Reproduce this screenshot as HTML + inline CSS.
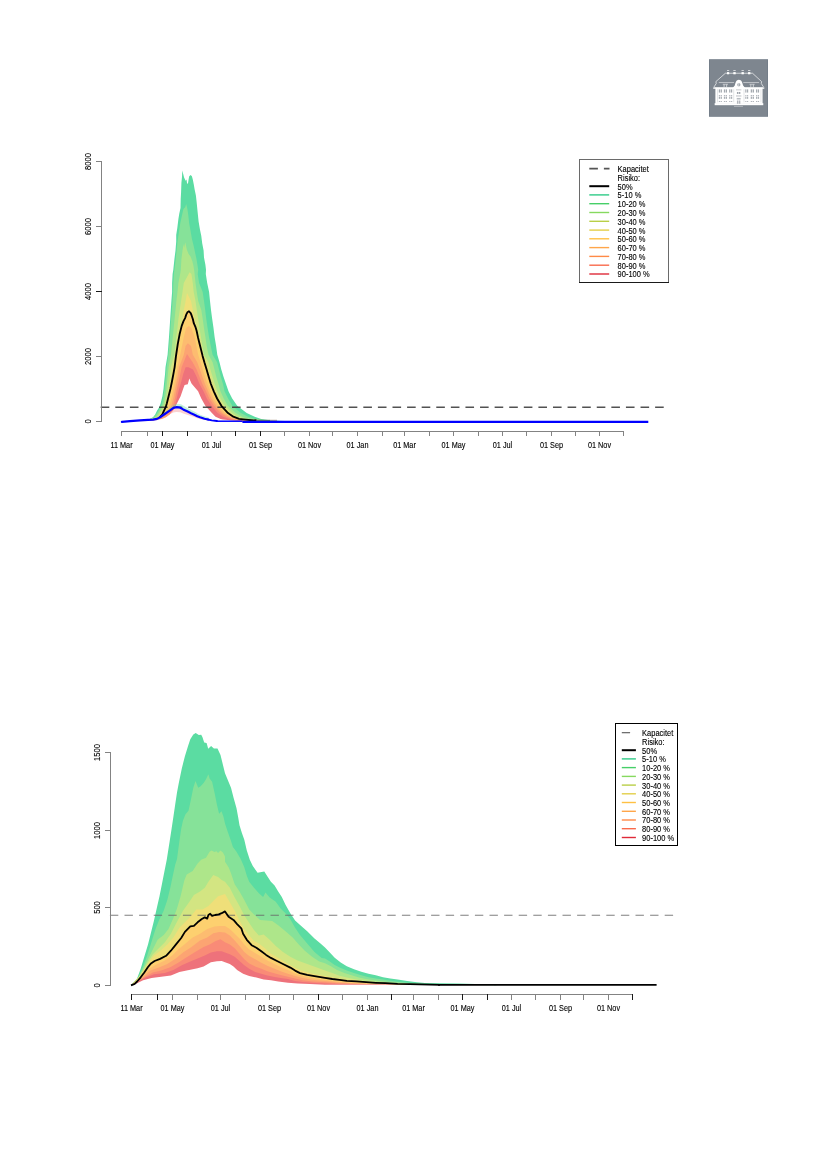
<!DOCTYPE html>
<html lang="da"><head><meta charset="utf-8"><title>Risiko</title>
<style>
html,body{margin:0;padding:0;background:#fff}
body{width:827px;height:1169px;overflow:hidden;font-family:"Liberation Sans",Arial,sans-serif}
svg{display:block}
</style></head><body>
<svg width="827" height="1169" viewBox="0 0 827 1169" font-family="'Liberation Sans', Arial, sans-serif">
<rect width="827" height="1169" fill="#fff"/>
<g id="logo">
<rect x="709" y="59.2" width="59" height="57.6" fill="#747e89"/>
<rect x="710" y="60" width="57" height="56" fill="#7e868f"/>
<g fill="#fff" stroke="none">
<rect x="727.0" y="72.1" width="2.18" height="2.18"/>
<rect x="727.0" y="70.06" width="2.18" height="0.8" fill-opacity="0.8"/>
<rect x="733.31" y="72.1" width="2.39" height="2.18"/>
<rect x="733.31" y="70.06" width="2.39" height="0.8" fill-opacity="0.8"/>
<rect x="741.51" y="72.1" width="2.32" height="2.18"/>
<rect x="741.51" y="70.06" width="2.32" height="0.8" fill-opacity="0.8"/>
<rect x="748.04" y="72.1" width="2.32" height="2.18"/>
<rect x="748.04" y="70.06" width="2.32" height="0.8" fill-opacity="0.8"/>
<rect x="715.39" y="87.77" width="47.17" height="15.97"/>
<rect x="714.66" y="103.16" width="48.62" height="2.03"/>
<path d="M712.77,88.64 L714.44,87.19 L763.06,87.19 L764.73,88.64 Z"/>
<path d="M732.37,88.13 L734.76,85.59 C735.49,82.69 736.21,79.79 738.9,79.79 C741.66,79.79 742.38,82.69 743.11,85.59 L745.43,88.13 Z"/>
</g>
<g fill="none" stroke="#fff" stroke-width="0.65" stroke-linejoin="round">
<path d="M713.5,87.77 L716.26,83.42 L715.89,81.6 L725.33,73.26 L752.54,73.26 L761.61,81.6"/>
<path d="M761.61,81.6 L761.25,83.42 L764.01,87.77"/>
<path d="M718.8,82.55 H734.04 M743.25,82.55 H759.07" stroke-width="0.5"/>
<path d="M724.09,84.51 V87.19" stroke-width="0.6"/>
<path d="M726.63,84.51 V87.19" stroke-width="0.6"/>
<path d="M750.8,84.51 V87.19" stroke-width="0.6"/>
<path d="M753.34,84.51 V87.19" stroke-width="0.6"/>
<path d="M722.79,84.29 H728.01 M749.49,84.29 H754.72" stroke-width="0.5"/>
<path d="M734.04,106.35 H742.96" stroke-width="0.5" stroke-opacity="0.8"/>
</g>
<g fill="#7e868f">
<rect x="718.8" y="89.37" width="1.27" height="3.19" fill-opacity="0.7"/>
<rect x="718.8" y="95.03" width="1.27" height="1.45" fill-opacity="0.6"/>
<rect x="718.8" y="97.06" width="1.27" height="1.74" fill-opacity="0.7"/>
<rect x="718.8" y="100.98" width="1.27" height="1.02" fill-opacity="0.6"/>
<rect x="720.65" y="89.37" width="1.27" height="3.19" fill-opacity="0.7"/>
<rect x="720.65" y="95.03" width="1.27" height="1.45" fill-opacity="0.6"/>
<rect x="720.65" y="97.06" width="1.27" height="1.74" fill-opacity="0.7"/>
<rect x="720.65" y="100.98" width="1.27" height="1.02" fill-opacity="0.6"/>
<rect x="723.88" y="89.37" width="1.27" height="3.19" fill-opacity="0.7"/>
<rect x="723.88" y="95.03" width="1.27" height="1.45" fill-opacity="0.6"/>
<rect x="723.88" y="97.06" width="1.27" height="1.74" fill-opacity="0.7"/>
<rect x="723.88" y="100.98" width="1.27" height="1.02" fill-opacity="0.6"/>
<rect x="725.73" y="89.37" width="1.27" height="3.19" fill-opacity="0.7"/>
<rect x="725.73" y="95.03" width="1.27" height="1.45" fill-opacity="0.6"/>
<rect x="725.73" y="97.06" width="1.27" height="1.74" fill-opacity="0.7"/>
<rect x="725.73" y="100.98" width="1.27" height="1.02" fill-opacity="0.6"/>
<rect x="729.17" y="89.37" width="1.23" height="3.19" fill-opacity="0.7"/>
<rect x="729.17" y="95.03" width="1.23" height="1.45" fill-opacity="0.6"/>
<rect x="729.17" y="97.06" width="1.23" height="1.74" fill-opacity="0.7"/>
<rect x="729.17" y="100.98" width="1.23" height="1.02" fill-opacity="0.6"/>
<rect x="730.99" y="89.37" width="1.23" height="3.19" fill-opacity="0.7"/>
<rect x="730.99" y="95.03" width="1.23" height="1.45" fill-opacity="0.6"/>
<rect x="730.99" y="97.06" width="1.23" height="1.74" fill-opacity="0.7"/>
<rect x="730.99" y="100.98" width="1.23" height="1.02" fill-opacity="0.6"/>
<rect x="745.28" y="89.37" width="1.16" height="3.19" fill-opacity="0.7"/>
<rect x="745.28" y="95.03" width="1.16" height="1.45" fill-opacity="0.6"/>
<rect x="745.28" y="97.06" width="1.16" height="1.74" fill-opacity="0.7"/>
<rect x="745.28" y="100.98" width="1.16" height="1.02" fill-opacity="0.6"/>
<rect x="747.03" y="89.37" width="1.16" height="3.19" fill-opacity="0.7"/>
<rect x="747.03" y="95.03" width="1.16" height="1.45" fill-opacity="0.6"/>
<rect x="747.03" y="97.06" width="1.16" height="1.74" fill-opacity="0.7"/>
<rect x="747.03" y="100.98" width="1.16" height="1.02" fill-opacity="0.6"/>
<rect x="750.73" y="89.37" width="1.34" height="3.19" fill-opacity="0.7"/>
<rect x="750.73" y="95.03" width="1.34" height="1.45" fill-opacity="0.6"/>
<rect x="750.73" y="97.06" width="1.34" height="1.74" fill-opacity="0.7"/>
<rect x="750.73" y="100.98" width="1.34" height="1.02" fill-opacity="0.6"/>
<rect x="752.65" y="89.37" width="1.34" height="3.19" fill-opacity="0.7"/>
<rect x="752.65" y="95.03" width="1.34" height="1.45" fill-opacity="0.6"/>
<rect x="752.65" y="97.06" width="1.34" height="1.74" fill-opacity="0.7"/>
<rect x="752.65" y="100.98" width="1.34" height="1.02" fill-opacity="0.6"/>
<rect x="756.02" y="89.37" width="1.23" height="3.19" fill-opacity="0.7"/>
<rect x="756.02" y="95.03" width="1.23" height="1.45" fill-opacity="0.6"/>
<rect x="756.02" y="97.06" width="1.23" height="1.74" fill-opacity="0.7"/>
<rect x="756.02" y="100.98" width="1.23" height="1.02" fill-opacity="0.6"/>
<rect x="757.84" y="89.37" width="1.23" height="3.19" fill-opacity="0.7"/>
<rect x="757.84" y="95.03" width="1.23" height="1.45" fill-opacity="0.6"/>
<rect x="757.84" y="97.06" width="1.23" height="1.74" fill-opacity="0.7"/>
<rect x="757.84" y="100.98" width="1.23" height="1.02" fill-opacity="0.6"/>
<rect x="736.94" y="91.98" width="1.45" height="1.96" fill-opacity="0.75"/>
<rect x="738.9" y="91.98" width="1.45" height="1.96" fill-opacity="0.75"/>
<rect x="736.72" y="97.93" width="3.92" height="1.6" fill-opacity="0.55"/>
<rect x="736.94" y="100.47" width="1.45" height="3.27" fill-opacity="0.6"/>
<rect x="738.9" y="100.47" width="1.45" height="3.27" fill-opacity="0.6"/>
<rect x="736.0" y="89.08" width="5.37" height="1.45" fill-opacity="0.3"/>
<rect x="736.0" y="95.03" width="5.37" height="1.81" fill-opacity="0.3"/>
<ellipse cx="738.83" cy="84.65" rx="1.6" ry="1.74" fill-opacity="0.7"/>
<rect x="738.61" y="82.84" width="0.44" height="3.63" fill="#fff"/>
<rect x="717.13" y="89.22" width="0.58" height="13.06" fill-opacity="0.35"/>
<rect x="733.53" y="89.22" width="0.58" height="13.06" fill-opacity="0.35"/>
<rect x="743.69" y="89.22" width="0.58" height="13.06" fill-opacity="0.35"/>
<rect x="760.67" y="89.22" width="0.58" height="13.06" fill-opacity="0.35"/>
</g>
</g>
<g id="chart1">
<path d="M150,421 149.4,419.1 153,417.3 155.2,414.4 157,410.8 159.2,407.2 160.6,403.5 162.4,396.3 163.5,389 164.2,381.8 165,374.5 165.5,367.3 167.6,354.8 168.3,345.9 169,336.9 169.6,327.9 170.2,318.9 170.8,309.9 171.4,300.9 172.1,292 172.1,283 172.6,274 173.3,269.7 174.4,259.3 175.5,250.4 176.2,241.4 176.2,235.1 177.3,227.9 178.4,218.9 179.3,213.5 180.5,208.1 180.7,199.1 181.1,192 181.4,183 182,176.7 182.3,170.4 183.2,174 184.1,177.6 185.6,180.7 186.5,179.4 187,183 187.9,183.9 188.6,179.4 189.2,176.2 190.7,174.9 191.9,176.2 192.8,179.4 193.7,183.9 194.6,189.3 195.9,195.5 196.7,202.7 197.6,211.7 198.6,221.6 200,229.7 201.3,236 202.2,243.2 203.6,250.4 204,257.5 205.4,264.7 206,269.7 205.8,274 207.2,283 209.1,292 210,300.9 211,309.9 212.2,318.9 213.5,327.9 214.6,336.9 216.1,345.9 217.3,354.8 219.5,362.3 221.3,369.5 223.5,376.8 226,384 228.5,391.3 232.2,398.5 237.2,405.8 246.7,413.1 254.7,416.7 261.2,418.9 262.3,419.3 271.9,420.5 285,421 L285,421.5 L150,421.5 Z" fill="#5bdca2"/>
<path d="M150,421 150.1,419.1 153.7,417.3 156.2,414.4 158.4,410.8 160.6,407.2 162.1,403.5 163.5,396.3 164.6,389 165.3,381.8 166,374.5 166.6,367.3 168.4,354.8 169.2,345.9 169.9,336.9 170.5,327.9 171.1,318.9 171.9,309.9 172.5,300.9 173.1,292 173.3,283 173.9,274 174.4,269.7 175.7,259.3 176.6,250.4 177.5,241.4 178.9,232.4 180.2,223.4 182,215.3 183.4,209 185.2,207.2 186.2,204.1 187.4,209 188.3,215.3 189.2,223.4 190.5,230.6 191.9,238.7 193.7,245.9 195,252.2 196.4,258.4 197.3,263.8 198.2,269.7 197.7,274 199.1,283 202.7,292 204,300.9 205.2,309.9 206.3,318.9 207.6,327.9 209,336.9 210.8,345.9 212.6,354.8 217.1,362.3 219,369.5 220.8,376.8 223,384 224.5,391.3 228.1,398.5 232.2,405.8 240.9,413.1 248.1,416.7 255.4,418.9 258.5,419.3 268.3,420.5 280.4,421 L280.4,421.5 L150,421.5 Z" fill="#86e299"/>
<path d="M150,421 150.8,419.1 155.2,417.3 157.7,414.4 159.9,410.8 162.1,407.2 163.5,403.5 165.3,396.3 166.4,389 167.1,381.8 167.9,374.5 168.6,367.3 171,354.8 171.9,345.9 172.8,336.9 173.7,327.9 174.6,318.9 175.5,309.9 176.4,300.9 177.5,292 178.4,283 180.2,274 180.8,269.7 181.4,259.3 182.5,250.4 183.5,244.1 184.1,247.7 185.2,242.3 186.1,245.9 186.8,249.5 188.6,253.9 190.5,256.6 192.3,261.1 193.4,265.6 194.1,269.7 194.6,274 195.5,283 196.8,292 198.2,300.9 201.3,309.9 202.7,318.9 204,327.9 205.4,336.9 206.7,345.9 208.5,354.8 212.6,362.3 214.5,369.5 216.3,376.8 218.5,384 220.4,391.3 223.7,398.5 227.8,405.8 235.8,413.1 242.3,416.7 249.6,418.9 254.6,419.3 264.7,420.5 275.8,421 L275.8,421.5 L150,421.5 Z" fill="#aee68a"/>
<path d="M150,421 152.3,419.1 156.6,417.3 159.2,414.4 161.3,410.8 163.5,407.2 165,403.5 166.8,396.3 168.2,389 169.3,381.8 170,374.5 170.8,367.3 174.2,354.8 175.3,345.9 176.2,336.9 177.5,327.9 178.4,318.9 179.8,309.9 181.1,300.9 182.5,292 183.8,283 189.6,272.2 191.4,274 192.8,283 193.7,292 195.5,300.9 196.8,309.9 198.2,318.9 199.5,327.9 200.9,336.9 202.4,345.9 204,354.8 208.6,362.3 210.4,369.5 212.6,376.8 214.8,384 217.3,391.3 220.6,398.5 224.9,405.8 232.2,413.1 238,416.7 245.2,418.9 250.8,419.3 261.1,420.5 271.2,421 L271.2,421.5 L150,421.5 Z" fill="#d3e582"/>
<path d="M150,421 153.7,419.1 158.1,417.3 160.6,414.4 162.8,410.8 165,407.2 166,403.5 167.9,396.3 169.5,389 170.8,381.8 171.9,374.5 172.9,367.3 176.4,354.8 177.8,345.9 179,336.9 180.7,327.9 182.5,318.9 183.8,309.9 185.6,300.9 187,292.9 191,300.9 192.8,309.9 194.6,318.9 196.8,327.9 199.1,336.9 200.9,345.9 202.9,354.8 206,362.3 208.1,369.5 210.3,376.8 212.4,384 215.3,391.3 218.5,398.5 222.9,405.8 229.6,413.1 235.1,416.7 241.6,418.9 246.9,419.3 257.5,420.5 266.6,421 L266.6,421.5 L150,421.5 Z" fill="#efdf79"/>
<path d="M150,421 155.9,419.1 159.5,417.3 162.4,414.4 163.9,410.8 165.7,407.2 166.8,403.5 168.6,396.3 170.4,389 171.9,381.8 173.3,374.5 174.6,367.3 176,355.9 177.8,343.9 179.6,334.3 181.7,325.9 183.5,321.1 185.1,318.1 186.2,314.7 187.4,312.3 189,311.3 190.7,313.1 191.7,315.7 192.9,319.3 193.8,323.2 195.4,326.8 196.6,330.7 198.1,337.9 199.3,342.7 201.1,349.9 202.6,355.9 204.4,362.3 206.6,369.5 208.7,376.8 210.9,384 213.8,391.3 217.1,398.5 221.4,405.8 228,413.1 233.3,416.7 239.1,418.9 243.1,419.3 253.9,420.5 262,421 L262,421.5 L150,421.5 Z" fill="#fdd06f"/>
<path d="M150,421 157.3,419.1 161.7,417.3 164.6,414.4 166.8,410.8 168.9,407.2 170,403.5 171.9,396.3 173.3,389 174.8,381.8 176.2,374.5 177.3,367.3 180.2,354.8 182,345.9 183.8,336.9 186.1,327.9 188.8,326.1 191.4,327.9 194.6,336.9 196.4,345.9 198.2,354.8 200.6,362.3 202.8,369.5 205,376.8 207.5,384 210.4,391.3 213.7,398.5 218.4,405.8 224.9,413.1 230.7,416.7 236.9,418.9 239.1,419.4 249.1,420.5 257.6,421 L257.6,421.5 L150,421.5 Z" fill="#fdbc70"/>
<path d="M150,421 158.8,419.1 163.9,417.3 166.8,414.4 168.9,410.8 170.8,407.2 171.9,403.5 173.7,396.3 175.1,389 176.6,381.8 178,374.5 179.1,367.3 183.8,354.8 185.6,345.9 187.9,343.2 191,345.9 192.8,354.8 197.2,362.3 199.9,369.5 202.4,376.8 205,384 208.2,391.3 211.5,398.5 216.2,405.8 222.7,413.1 228.9,416.7 235.1,418.9 244.3,420.4 253.2,421 L253.2,421.5 L150,421.5 Z" fill="#fca472"/>
<path d="M150,421 160.2,419.1 166,417.3 168.9,414.4 171.1,410.8 172.9,407.2 173.7,403.5 175.5,396.3 176.9,389 178.7,381.8 180.2,374.5 181.6,367.3 187,353.9 192.6,362.3 196.6,369.5 199.5,376.8 202.4,384 206,391.3 209.3,398.5 214,405.8 220.6,413.1 226.7,416.7 232.9,418.9 239.6,420.4 248.8,421 L248.8,421.5 L150,421.5 Z" fill="#f98b77"/>
<path d="M150,421 161.7,419.1 168.2,417.3 171.1,414.4 173.3,410.8 174.8,407.2 175.5,403.5 177.3,396.3 179.1,389 181.3,381.8 183.1,374.5 185.6,367.3 188.5,367.3 193,369.5 196.6,376.8 199.5,384 203.5,391.3 206.8,398.5 211.5,405.8 217.7,413.1 223.1,416.7 229.3,418.9 234.8,420.3 244.4,421 L244.4,421.5 L150,421.5 Z" fill="#ee727b"/>
<path d="M150,421 161.7,419.1 166,417.3 169.7,414.4 172.9,410.8 175.1,407.2 176.9,403.5 180.6,396.3 183.1,389 184.6,385 187.8,384.3 189.3,378.5 191.4,383.2 191.9,384 198.1,391.3 201.3,398.5 205.3,405.8 211.9,413.1 215.5,416.7 220.6,418.9 223,419.6 230,420.3 240,421 L240,423.5 L150,423.5 Z" fill="#fff"/>
<path d="M100.7,407.3 H665" stroke="#3a3a3a" stroke-opacity="0.88" stroke-width="1.6" stroke-dasharray="8.6 5.99" fill="none"/>
<path d="M159.5,417.3 162.4,414.4 163.9,410.8 165.7,407.2 166.8,403.5 168.6,396.3 170.4,389 171.9,381.8 173.3,374.5 174.6,367.3 176,355.9 177.8,343.9 179.6,334.3 181.7,325.9 183.5,321.1 185.1,318.1 186.2,314.7 187.4,312.3 189,311.3 190.7,313.1 191.7,315.7 192.9,319.3 193.8,323.2 195.4,326.8 196.6,330.7 198.1,337.9 199.3,342.7 201.1,349.9 202.6,355.9 204.4,362.3 206.6,369.5 208.7,376.8 210.9,384 213.8,391.3 217.1,398.5 221.4,405.8 228,413.1 233.3,416.7 239.1,418.9 243.1,419.3 253.9,420.5 256.5,420.2" fill="none" stroke="#000" stroke-width="1.85" stroke-linejoin="round" />
<path d="M256,420.3 H270" stroke="#3f5a3c" stroke-width="0.9"/><path d="M270,420.3 H277" stroke="#a08a78" stroke-width="0.9"/>
<g id="small">
<path d="M121.9,421.8 130,421.1 140,420 148,419.5 153,419.2 157,418.2 160,416.3 164.8,412.2 169.7,408 173.5,404.7 177.2,403.7 181.1,404.2 184,406.1 187.9,408.2 191.8,410.3 195.6,412.2 198.1,413.7 200.8,414.9 205.3,416.5 208.8,417.5 208,419.5 204.5,418.7 200,417.3 197.3,416.2 194.8,414.9 191,413.2 187.1,411.3 183.2,409.4 180.3,407.7 176.4,407.2 173.5,407.9 169.7,410.6 164.8,414 160,417.3 157,418.9 153,419.7 148,419.9 140,420.3 130,421.2 121.9,421.8 Z" fill="#5bdca2" fill-opacity="0.36"/>
<path d="M121.9,421.8 130,421.2 140,420.3 148,419.9 153,419.7 157,418.9 160,417.3 164.8,414 169.7,410.6 173.5,407.9 176.4,407.2 180.3,407.7 183.2,409.4 187.1,411.3 191,413.2 194.8,414.9 197.3,416.2 200,417.3 204.5,418.7 208,419.5 208,420.6 204.5,420.1 200,419.1 197.3,418.3 194.8,417.3 191,416.1 187.1,414.8 183.2,413.5 180.3,412.3 176.4,412 173.5,412.5 169.7,414.3 164.8,416.7 160,419.1 157,420.2 153,420.8 148,420.9 140,421.2 130,421.3 121.9,421.8 Z" fill="#f4777b" fill-opacity="0.34"/>
<path d="M121.9,421.8 130,421.2 140,420.3 148,419.9 153,419.7 157,418.9 160,417.3 164.8,414 169.7,410.6 173.5,407.9 176.4,407.2 180.3,407.7 183.2,409.4 187.1,411.3 191,413.2 194.8,414.9 197.3,416.2 200,417.3 204.5,418.7 208,419.5" fill="none" stroke="#0000ff" stroke-width="2.2" stroke-linejoin="round" stroke-linecap="round"/>
<path d="M208,419.5 211.8,420.3 216.9,421" fill="none" stroke="#0000ff" stroke-width="1.8" stroke-linejoin="round" stroke-linecap="round"/>
<path d="M216.5,421.2 242.4,421.2" fill="none" stroke="#0000ff" stroke-width="1.5"/>
<path d="M242.4,421.8 H648.3" fill="none" stroke="#0000ff" stroke-width="2.2"/>
</g>
</g>
<g shape-rendering="crispEdges" stroke="none">
<rect x="101" y="161" width="1" height="261" fill="#838383"/>
<rect x="96" y="161" width="6" height="1" fill="#838383"/>
<rect x="96" y="226" width="6" height="1" fill="#838383"/>
<rect x="96" y="291" width="6" height="1" fill="#1a1a1a"/>
<rect x="96" y="356" width="6" height="1" fill="#838383"/>
<rect x="96" y="421" width="6" height="1" fill="#838383"/>
<rect x="121" y="431" width="503" height="1" fill="#838383"/>
<rect x="121" y="431" width="1" height="5" fill="#838383"/>
<rect x="147" y="431" width="1" height="5" fill="#838383"/>
<rect x="162" y="431" width="1" height="5" fill="#1a1a1a"/>
<rect x="187" y="431" width="1" height="5" fill="#1a1a1a"/>
<rect x="211" y="431" width="1" height="5" fill="#838383"/>
<rect x="235" y="431" width="1" height="5" fill="#1a1a1a"/>
<rect x="260" y="431" width="1" height="5" fill="#1a1a1a"/>
<rect x="284" y="431" width="1" height="5" fill="#838383"/>
<rect x="309" y="431" width="1" height="5" fill="#838383"/>
<rect x="332" y="431" width="1" height="5" fill="#838383"/>
<rect x="357" y="431" width="1" height="5" fill="#838383"/>
<rect x="382" y="431" width="1" height="5" fill="#838383"/>
<rect x="404" y="431" width="1" height="5" fill="#838383"/>
<rect x="429" y="431" width="1" height="5" fill="#838383"/>
<rect x="453" y="431" width="1" height="5" fill="#838383"/>
<rect x="478" y="431" width="1" height="5" fill="#838383"/>
<rect x="502" y="431" width="1" height="5" fill="#838383"/>
<rect x="526" y="431" width="1" height="5" fill="#838383"/>
<rect x="551" y="431" width="1" height="5" fill="#838383"/>
<rect x="575" y="431" width="1" height="5" fill="#838383"/>
<rect x="599" y="431" width="1" height="5" fill="#838383"/>
<rect x="623" y="431" width="1" height="5" fill="#838383"/>
</g>
<g font-size="7.3px" fill="#000" stroke="#000" stroke-width="0.1" text-anchor="middle">
<text transform="translate(90.8,161.5) rotate(-90) scale(1.04,1.15)">8000</text>
<text transform="translate(90.8,226.5) rotate(-90) scale(1.04,1.15)">6000</text>
<text transform="translate(90.8,291.5) rotate(-90) scale(1.04,1.15)">4000</text>
<text transform="translate(90.8,356.5) rotate(-90) scale(1.04,1.15)">2000</text>
<text transform="translate(90.8,421.5) rotate(-90) scale(1.04,1.15)">0</text>
<text transform="translate(121.5,448) scale(1,1.15)">11 Mar</text>
<text transform="translate(162.5,448) scale(1,1.15)">01 May</text>
<text transform="translate(211.5,448) scale(1,1.15)">01 Jul</text>
<text transform="translate(260.5,448) scale(1,1.15)">01 Sep</text>
<text transform="translate(309.5,448) scale(1,1.15)">01 Nov</text>
<text transform="translate(357.5,448) scale(1,1.15)">01 Jan</text>
<text transform="translate(404.5,448) scale(1,1.15)">01 Mar</text>
<text transform="translate(453.5,448) scale(1,1.15)">01 May</text>
<text transform="translate(502.5,448) scale(1,1.15)">01 Jul</text>
<text transform="translate(551.5,448) scale(1,1.15)">01 Sep</text>
<text transform="translate(599.5,448) scale(1,1.15)">01 Nov</text>
</g>
<rect x="579.5" y="159.5" width="89" height="123" fill="#fff" stroke="#6a6a6a" stroke-width="1" shape-rendering="crispEdges"/>
<path d="M589.3,168.6 H609.5" stroke="#555" stroke-width="1.6" stroke-dasharray="8.6 6"/>
<path d="M589.3,186.2 H609.2" stroke="#000" stroke-width="2"/>
<path d="M589.3,194.9 H609.2" stroke="#2fcb87" stroke-width="1.4"/>
<path d="M589.3,203.7 H609.2" stroke="#46cf68" stroke-width="1.4"/>
<path d="M589.3,212.5 H609.2" stroke="#86d95f" stroke-width="1.4"/>
<path d="M589.3,221.3 H609.2" stroke="#b9cf47" stroke-width="1.4"/>
<path d="M589.3,230.1 H609.2" stroke="#e3cf49" stroke-width="1.4"/>
<path d="M589.3,238.8 H609.2" stroke="#ffc043" stroke-width="1.4"/>
<path d="M589.3,247.6 H609.2" stroke="#ffa64a" stroke-width="1.4"/>
<path d="M589.3,256.4 H609.2" stroke="#ff8a47" stroke-width="1.4"/>
<path d="M589.3,265.2 H609.2" stroke="#f96a4c" stroke-width="1.4"/>
<path d="M589.3,274 H609.2" stroke="#df2a38" stroke-width="1.4"/>
<g font-size="7.5px" fill="#000" stroke="#000" stroke-width="0.1">
<text transform="translate(617.6,172) scale(1,1.15)">Kapacitet</text>
<text transform="translate(617.6,181.3) scale(1,1.15)">Risiko:</text>
<text transform="translate(617.6,189.6) scale(1,1.15)">50%</text>
<text transform="translate(617.6,198.3) scale(1,1.15)">5-10 %</text>
<text transform="translate(617.6,207.1) scale(1,1.15)">10-20 %</text>
<text transform="translate(617.6,215.9) scale(1,1.15)">20-30 %</text>
<text transform="translate(617.6,224.7) scale(1,1.15)">30-40 %</text>
<text transform="translate(617.6,233.5) scale(1,1.15)">40-50 %</text>
<text transform="translate(617.6,242.2) scale(1,1.15)">50-60 %</text>
<text transform="translate(617.6,251) scale(1,1.15)">60-70 %</text>
<text transform="translate(617.6,259.8) scale(1,1.15)">70-80 %</text>
<text transform="translate(617.6,268.6) scale(1,1.15)">80-90 %</text>
<text transform="translate(617.6,277.4) scale(1,1.15)">90-100 %</text>
</g>
<path d="M579,282.5 H669" stroke="#1a1a1a" stroke-width="1" shape-rendering="crispEdges"/>
<g id="chart2">
<path d="M131,985.4 137.1,978.5 140.7,968.8 144.3,956.7 148,944.6 151,932.6 154,920.5 156.7,908.4 159.5,896.3 161.9,884.2 164.3,872.1 166.7,860 169.7,840.9 171.6,828.8 173.4,816.7 175.2,804.6 177,792.6 178.8,782.9 181.8,768.4 184.9,756.3 187.9,746.6 190.3,739.3 193.3,734.5 195.7,733.1 198.8,735.1 201.2,734.8 202.4,736.9 204.2,742.4 206.6,743 208.2,748.8 211.1,746 213.9,748.4 217.5,748.4 220.5,755.1 222.9,764.7 225,773.2 228,780.5 231,787.7 233.5,797.4 236.5,808.3 238.3,817.9 239.5,825.2 241.9,833.1 244.3,839.7 246.8,850.6 249.8,859.7 252.8,866 257.6,872.7 264.3,871.5 267.3,876.3 270.9,881.8 274.6,885.4 278.2,891.4 281.8,896.9 285.5,904.7 290.3,913.2 295.1,920.5 301.2,925.9 307.2,931.3 314.5,938.6 320.5,943.4 325,947.5 329.8,952.4 334.7,957.8 340.7,962.6 346.8,966.3 354,969.3 361.3,971.7 368.5,973.8 375.8,975.3 383,977.2 390.3,978.4 397.6,979.6 407.2,981 416.9,982.2 425,983 440,983.2 458,983.6 475,984 494,984.4 497,985.2 L497,985.2 L131,985.2 Z" fill="#5bdca2"/>
<path d="M131,985.4 138.3,977.3 143.1,966.4 146.8,956.7 151,943.4 155.2,930.1 158.9,920.5 163.7,910.8 167.3,899.9 170.3,887.8 172.8,875.7 175.2,864.8 177,859.1 179.4,840.9 181.2,828.8 183,820.4 185.5,814.3 188.5,810.7 190.9,799.8 193.3,787.7 195.5,781.1 198.2,787.7 200.6,786.3 203.6,782.9 206,779.3 208.4,774.2 209.6,778.6 212.1,781.7 214.5,792.6 216.9,804.6 219.1,813.7 221.5,811.3 223.5,816.7 225,823.4 228,832.5 231,840.9 232.9,847 236.5,851.8 240.7,859.1 244.3,867.3 246.8,875.7 249.2,881.8 254,887.8 258.9,893.3 263.1,896.9 265.5,892.6 269.7,897.5 275.8,901.7 280.6,908.4 285.5,913.2 290.3,919.3 295.1,927.7 300,935 307.2,943.4 314.5,951.9 321.7,957.9 325,958.4 329.8,961.4 334.7,965.1 340.7,968.1 346.8,970.5 354,972.9 361.3,975.3 368.5,977.2 375.8,978.4 383,979.6 390.3,980.8 397.6,981.8 409.6,983 425,983.8 440,983.9 458,984.2 475,984.6 494,985.2 L494,985.2 L131,985.2 Z" fill="#86e299"/>
<path d="M131,985.4 138.9,976.7 145,965.2 149.2,956.7 154,947.1 157.6,939.8 163.7,935 168.5,928.9 173.4,918 177,908.4 180.6,896.3 184.3,880.6 186.7,874.5 192.7,870.9 197.6,863.6 201.2,859.7 206,857.8 209.6,851.8 211.5,850.4 214.5,852 216.3,851.2 218.1,853 220.5,850.4 222.9,852.4 225,856.6 225,861.8 228.6,867.3 231,873.3 234.7,884.2 239.5,891.4 244.3,899.9 249.2,909.6 254,914.4 260.1,919.9 266.1,920.5 272.2,921.1 278.2,925.3 285.5,931.3 292.7,937.4 298.8,944.6 304.8,950.7 312.1,956.7 319.3,961.6 325,963.3 331,966.3 337.1,969.9 344.3,972.9 351.6,975.3 358.9,977.4 366.1,979 375.8,980.5 385.5,981.8 397.6,982.7 425,984.2 440,985 494,985.2 L494,985.2 L131,985.2 Z" fill="#aee68a"/>
<path d="M131,985.4 139.5,976.1 146.8,964 152.8,954.3 160.1,947.1 164.9,942.2 170.9,933.8 177,921.7 183,910.8 189.1,902.3 193.9,895.1 200,891.4 204.8,887.8 208.4,881.8 213.3,875.1 218.1,876.9 221.7,880 225,881.8 229.8,887.8 234.7,897.5 239.5,905.9 244.3,915.6 249.2,922.9 254,930.1 258.9,935.6 263.7,934.4 269.7,939.8 275.8,945.9 283,951.9 290.3,956.7 297.6,960.4 307.2,964 316.9,967.6 325,970.5 332.3,972.9 339.5,975.7 346.8,977.4 354,979 361.3,980.2 373.4,981.8 385.5,982.7 409.6,983.9 425,984.4 440,985.2 494,985.2 L494,985.2 L131,985.2 Z" fill="#d3e582"/>
<path d="M131,985.4 140.7,975.5 148,963.4 154,955.5 161.3,950.1 167.3,944.6 173.4,937.4 179.4,927.7 185.5,921.7 191.5,915.6 196.3,909.6 202.4,909.6 208.4,905.9 213.3,901.1 218.1,896.3 225,893.9 229.8,902.3 234.7,910.8 239.5,920.5 244.3,928.9 249.2,935.6 254,941 258.9,943.4 264.9,948.3 270.9,953.7 278.2,957.9 285.5,962.2 292.7,966.4 300,970 309.6,973.1 319.3,974.9 325,975.9 332.3,977.2 339.5,978.6 349.2,980.2 361.3,981.4 373.4,982.2 397.6,983.4 425,984.4 440,985.2 494,985.2 L494,985.2 L131,985.2 Z" fill="#efdf79"/>
<path d="M131,985.4 134.7,983.9 137.1,981.5 140.7,977.3 144.3,972.5 148,967 151,963.4 154.6,961 160.1,958.9 166.1,955.8 170.9,950.7 175.8,944.6 181.2,938 184.9,931.9 190.3,926.3 193.9,925.9 197.6,922.3 201.8,919 204.8,917.4 207.2,918.6 208.4,915 210.2,913.8 212.1,915.9 215.1,915 218.7,914.4 221.7,913.2 225,911.4 228.6,916.8 233.5,919.9 237.1,924.1 241.3,928.3 243.1,933.8 246.8,939.8 251.6,945.2 256.4,947.7 261.3,951.3 266.1,954.9 270.9,957.9 277,961 283,964 290.3,967.6 295.1,970.6 300,973.1 307.2,974.9 314.5,976.1 325,977.8 332.3,979 339.5,979.8 346.8,980.8 356.4,981.4 366.1,982.2 375.8,982.8 385.5,983.2 397.6,983.8 409.6,984.1 425,984.7 440,985.1 494,985.2 L494,985.2 L131,985.2 Z" fill="#fdd06f"/>
<path d="M131,985.4 140.7,977.9 149.2,968.8 156.4,964.6 164.9,960.4 172.2,955.5 178.2,949.5 185.5,943.4 192.7,937.4 200,933.8 207.2,928.9 214.5,926.5 219.3,925.9 225,925.9 229.8,928.9 234.7,933.8 239.5,938.6 244.3,944.6 249.2,949.5 255.2,953.1 261.3,956.7 267.3,960.4 273.4,963.4 280.6,967 287.9,970 295.1,973.7 302.4,976.1 312.1,977.9 325,979.8 337.1,981.4 349.2,982.6 367.3,983.6 385.5,984.2 400,985 440,985.1 494,985.2 L494,985.2 L131,985.2 Z" fill="#fdbc70"/>
<path d="M131,985.4 141.9,977.9 150.4,970.6 158.9,967.6 167.3,964 175.8,958.5 183,952.5 191.5,947.1 200,940.4 207.2,937.4 213.3,933.2 219.3,931.9 225,932.6 229.8,935.6 234.7,940.4 239.5,945.9 244.3,951.9 249.2,956.1 255.2,959.2 261.3,962.8 267.3,965.8 273.4,968.2 280.6,971.2 287.9,973.7 295.1,976.1 302.4,977.9 312.1,979.7 325,981 337.1,982.2 349.2,983.2 367.3,983.9 385.5,984.3 400,985 440,985.1 494,985.2 L494,985.2 L131,985.2 Z" fill="#fca472"/>
<path d="M131,985.4 143.1,977.9 152.8,972.5 161.3,970.6 169.7,967.6 178.2,962.8 185.5,957.9 195.1,951.9 203.6,947.1 209.6,944.6 215.7,941 220.5,939.2 225,942.2 229.8,944.6 234.7,948.3 239.5,953.7 244.3,959.2 249.2,963.4 255.2,966.4 261.3,968.8 267.3,971.2 273.4,973.1 280.6,974.9 287.9,976.7 295.1,978.5 302.4,980.3 312.1,981.5 325,982.2 337.1,983.2 349.2,983.8 367.3,984.2 385.5,984.4 400,985 440,985.1 494,985.2 L494,985.2 L131,985.2 Z" fill="#f98b77"/>
<path d="M131,985.4 144.3,977.9 154,974.3 164.9,973.1 173.4,970 181.8,965.2 190.3,961.6 197.6,958.5 204.8,955.5 210.9,952.5 216.9,951.3 221.7,951.3 225,952.5 229.8,954.3 234.7,956.7 239.5,961 244.3,965.2 249.2,968.8 255.2,971.9 261.3,973.7 267.3,975.5 273.4,976.7 280.6,977.9 287.9,979.1 295.1,980.9 302.4,981.9 312.1,982.7 325,983.4 337.1,983.9 349.2,984.3 367.3,984.4 385.5,984.5 400,985 440,985.1 494,985.2 L494,985.2 L131,985.2 Z" fill="#ee727b"/>
<path d="M131,985.4 137.1,983.3 143.1,980.3 151.6,977.9 161.3,976.7 170.9,975.5 179.4,971.9 187.9,970.3 197.6,968.2 203.6,966.4 210.9,962.2 216.9,961.3 221.7,961 225,962.2 229.8,964 233.5,966.4 237.1,970 243.1,973.7 249.2,976.1 256.4,977.5 263.7,979.5 270.9,980.3 278.2,981.5 287.9,982.7 297.6,983.6 309.6,983.9 325,984.7 337.1,984.7 349.2,984.7 367.3,984.7 385.5,984.7 400,985 440,985.1 494,985.2 L494,987.5 L131,987.5 Z" fill="#fff"/>
<path d="M109.9,915.2 H674" stroke="#6a6a6a" stroke-opacity="0.85" stroke-width="1.1" stroke-dasharray="8.4 6.2" fill="none"/>
<path d="M131,985.4 134.7,983.9 137.1,981.5 140.7,977.3 144.3,972.5 148,967 151,963.4 154.6,961 160.1,958.9 166.1,955.8 170.9,950.7 175.8,944.6 181.2,938 184.9,931.9 190.3,926.3 193.9,925.9 197.6,922.3 201.8,919 204.8,917.4 207.2,918.6 208.4,915 210.2,913.8 212.1,915.9 215.1,915 218.7,914.4 221.7,913.2 225,911.4 228.6,916.8 233.5,919.9 237.1,924.1 241.3,928.3 243.1,933.8 246.8,939.8 251.6,945.2 256.4,947.7 261.3,951.3 266.1,954.9 270.9,957.9 277,961 283,964 290.3,967.6 295.1,970.6 300,973.1 307.2,974.9 314.5,976.1 325,977.8 332.3,979 339.5,979.8 346.8,980.8 356.4,981.4 366.1,982.2 375.8,982.8 385.5,983.2 397.6,983.8 409.6,984.1 440,984.8" fill="none" stroke="#000" stroke-width="1.8" stroke-linejoin="round" />
<path d="M438,984.9 H656.6" stroke="#000" stroke-width="1.6"/>
</g>
<g shape-rendering="crispEdges" stroke="none">
<rect x="110" y="752" width="1" height="234" fill="#838383"/>
<rect x="105" y="752" width="6" height="1" fill="#838383"/>
<rect x="105" y="830" width="6" height="1" fill="#838383"/>
<rect x="105" y="907" width="6" height="1" fill="#838383"/>
<rect x="105" y="985" width="6" height="1" fill="#838383"/>
<rect x="131" y="994" width="502" height="1" fill="#838383"/>
<rect x="131" y="994" width="1" height="6" fill="#1a1a1a"/>
<rect x="157" y="994" width="1" height="6" fill="#1a1a1a"/>
<rect x="172" y="994" width="1" height="6" fill="#838383"/>
<rect x="197" y="994" width="1" height="6" fill="#838383"/>
<rect x="220" y="994" width="1" height="6" fill="#838383"/>
<rect x="245" y="994" width="1" height="6" fill="#838383"/>
<rect x="269" y="994" width="1" height="6" fill="#838383"/>
<rect x="293" y="994" width="1" height="6" fill="#838383"/>
<rect x="318" y="994" width="1" height="6" fill="#1a1a1a"/>
<rect x="342" y="994" width="1" height="6" fill="#838383"/>
<rect x="367" y="994" width="1" height="6" fill="#838383"/>
<rect x="391" y="994" width="1" height="6" fill="#1a1a1a"/>
<rect x="413" y="994" width="1" height="6" fill="#838383"/>
<rect x="438" y="994" width="1" height="6" fill="#838383"/>
<rect x="462" y="994" width="1" height="6" fill="#1a1a1a"/>
<rect x="487" y="994" width="1" height="6" fill="#1a1a1a"/>
<rect x="511" y="994" width="1" height="6" fill="#838383"/>
<rect x="535" y="994" width="1" height="6" fill="#838383"/>
<rect x="560" y="994" width="1" height="6" fill="#838383"/>
<rect x="583" y="994" width="1" height="6" fill="#838383"/>
<rect x="608" y="994" width="1" height="6" fill="#838383"/>
<rect x="632" y="994" width="1" height="6" fill="#1a1a1a"/>
</g>
<g font-size="7.3px" fill="#000" stroke="#000" stroke-width="0.1" text-anchor="middle">
<text transform="translate(100.4,752.5) rotate(-90) scale(1.04,1.15)">1500</text>
<text transform="translate(100.4,830.5) rotate(-90) scale(1.04,1.15)">1000</text>
<text transform="translate(100.4,907.5) rotate(-90) scale(1.04,1.15)">500</text>
<text transform="translate(100.4,985.5) rotate(-90) scale(1.04,1.15)">0</text>
<text transform="translate(131.5,1010.8) scale(1,1.15)">11 Mar</text>
<text transform="translate(172.5,1010.8) scale(1,1.15)">01 May</text>
<text transform="translate(220.5,1010.8) scale(1,1.15)">01 Jul</text>
<text transform="translate(269.5,1010.8) scale(1,1.15)">01 Sep</text>
<text transform="translate(318.5,1010.8) scale(1,1.15)">01 Nov</text>
<text transform="translate(367.5,1010.8) scale(1,1.15)">01 Jan</text>
<text transform="translate(413.5,1010.8) scale(1,1.15)">01 Mar</text>
<text transform="translate(462.5,1010.8) scale(1,1.15)">01 May</text>
<text transform="translate(511.5,1010.8) scale(1,1.15)">01 Jul</text>
<text transform="translate(560.5,1010.8) scale(1,1.15)">01 Sep</text>
<text transform="translate(608.5,1010.8) scale(1,1.15)">01 Nov</text>
</g>
<rect x="615.5" y="723.5" width="62" height="122" fill="#fff" stroke="#000" stroke-width="1" shape-rendering="crispEdges"/>
<path d="M621.8,732.7 H630.1" stroke="#555" stroke-width="1.1" stroke-dasharray="8.6 6"/>
<path d="M621.8,750.2 H635.9" stroke="#000" stroke-width="2"/>
<path d="M621.8,758.9 H635.9" stroke="#2fcb87" stroke-width="1.4"/>
<path d="M621.8,767.6 H635.9" stroke="#46cf68" stroke-width="1.4"/>
<path d="M621.8,776.4 H635.9" stroke="#86d95f" stroke-width="1.4"/>
<path d="M621.8,785.1 H635.9" stroke="#b9cf47" stroke-width="1.4"/>
<path d="M621.8,793.8 H635.9" stroke="#e3cf49" stroke-width="1.4"/>
<path d="M621.8,802.5 H635.9" stroke="#ffc043" stroke-width="1.4"/>
<path d="M621.8,811.3 H635.9" stroke="#ffa64a" stroke-width="1.4"/>
<path d="M621.8,820 H635.9" stroke="#ff8a47" stroke-width="1.4"/>
<path d="M621.8,828.7 H635.9" stroke="#f96a4c" stroke-width="1.4"/>
<path d="M621.8,837.5 H635.9" stroke="#df2a38" stroke-width="1.4"/>
<g font-size="7.5px" fill="#000" stroke="#000" stroke-width="0.1">
<text transform="translate(642.1,736.1) scale(1,1.15)">Kapacitet</text>
<text transform="translate(642.1,745.3) scale(1,1.15)">Risiko:</text>
<text transform="translate(642.1,753.6) scale(1,1.15)">50%</text>
<text transform="translate(642.1,762.3) scale(1,1.15)">5-10 %</text>
<text transform="translate(642.1,771) scale(1,1.15)">10-20 %</text>
<text transform="translate(642.1,779.8) scale(1,1.15)">20-30 %</text>
<text transform="translate(642.1,788.5) scale(1,1.15)">30-40 %</text>
<text transform="translate(642.1,797.2) scale(1,1.15)">40-50 %</text>
<text transform="translate(642.1,805.9) scale(1,1.15)">50-60 %</text>
<text transform="translate(642.1,814.7) scale(1,1.15)">60-70 %</text>
<text transform="translate(642.1,823.4) scale(1,1.15)">70-80 %</text>
<text transform="translate(642.1,832.1) scale(1,1.15)">80-90 %</text>
<text transform="translate(642.1,840.9) scale(1,1.15)">90-100 %</text>
</g>
</svg>
</body></html>
